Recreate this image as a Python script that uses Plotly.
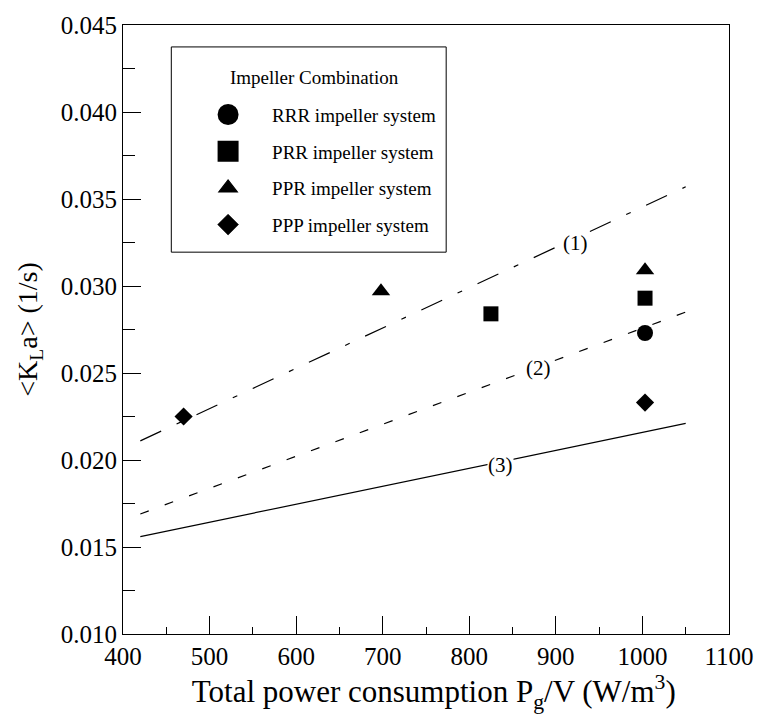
import plotly.graph_objects as go

# ---- data ----
rrr_x = [1003]
rrr_y = [0.0273]
prr_x = [825, 1003]
prr_y = [0.0284, 0.0293]
ppr_x = [698, 1003]
ppr_y = [0.0297, 0.0309]
ppp_x = [470, 1003]
ppp_y = [0.0225, 0.0233]

line_x = [420, 1050]
line1_y = [0.0211, 0.0357]
line2_y = [0.0169, 0.0285]
line3_y = [0.0156, 0.0221]

labels = ["(1)", "(2)", "(3)"]
label_x = [923, 880, 836]
label_y = [0.0325, 0.0253, 0.0197]

series_names = ["RRR impeller system", "PRR impeller system",
                "PPR impeller system", "PPP impeller system"]

FONT = "Liberation Serif"

fig = go.Figure()

specs = [
    (rrr_x, rrr_y, "circle", 16, 16, 5),
    (prr_x, prr_y, "square", 15, 16, 5),
    (ppr_x, ppr_y, "triangle-up", 16, 16, 1.2),
    (ppp_x, ppp_y, "diamond", 14, 16, 0.6),
]
for name, (xs, ys, sym, size, lsize, llw) in zip(series_names, specs):
    fig.add_trace(go.Scatter(
        x=xs, y=ys, mode="markers", name=name, showlegend=False,
        marker=dict(symbol=sym, size=size, color="black"),
    ))
    # legend-only entry
    fig.add_trace(go.Scatter(
        x=[None], y=[None], mode="markers", name=name, legendgroup=name,
        marker=dict(symbol=sym, size=lsize, color="black",
                    line=dict(color="black", width=llw)),
    ))

for ys, dash in [(line1_y, "23px,17px,5px,17px"), (line2_y, "9px,17px"), (line3_y, "solid")]:
    fig.add_trace(go.Scatter(
        x=line_x, y=ys, mode="lines", showlegend=False,
        line=dict(color="black", width=1.2, dash=dash),
    ))

for t, lx, ly in zip(labels, label_x, label_y):
    fig.add_annotation(x=lx, y=ly, text=t, showarrow=False,
                       font=dict(family=FONT, size=21, color="black"),
                       bgcolor="white", borderpad=0)

# legend box and title
fig.add_shape(type="rect", xref="paper", yref="paper",
              x0=0.0797, x1=0.5333, y0=0.627, y1=0.964,
              line=dict(color="black", width=1), fillcolor="rgba(0,0,0,0)")
fig.add_annotation(xref="paper", yref="paper", x=0.174, y=0.9137,
                   xanchor="left", yanchor="middle", showarrow=False,
                   text="Impeller Combination",
                   font=dict(family=FONT, size=19, color="black"))

fig.update_layout(
    width=766, height=716,
    margin=dict(l=123, r=28, t=20, b=82),
    plot_bgcolor="white", paper_bgcolor="white",
    font=dict(family=FONT, color="black"),
    showlegend=True,
    legend=dict(
        x=0.1008, y=0.884, xanchor="left", yanchor="top",
        bgcolor="rgba(0,0,0,0)", borderwidth=0,
        font=dict(family=FONT, size=19, color="black"),
        tracegroupgap=9,
        itemwidth=78,
    ),
    xaxis=dict(
        range=[400, 1100], dtick=100, tick0=400,
        showline=True, linecolor="black", linewidth=1, mirror=True,
        ticks="inside", ticklen=18, tickcolor="black",
        minor=dict(dtick=50, ticks="inside", ticklen=7, tickcolor="black"),
        showgrid=False, zeroline=False,
        tickfont=dict(family=FONT, size=25, color="black"),
        title=dict(text="&nbsp;&nbsp;Total power consumption P<sub>g</sub>/V (W/m<sup>3</sup>)",
                   font=dict(family=FONT, size=31, color="black"), standoff=3),
    ),
    yaxis=dict(
        range=[0.010, 0.045], dtick=0.005, tick0=0.010, tickformat=".3f",
        showline=True, linecolor="black", linewidth=1, mirror=True,
        ticks="inside", ticklen=18, tickcolor="black",
        minor=dict(dtick=0.0025, ticks="inside", ticklen=12, tickcolor="black"),
        showgrid=False, zeroline=False,
        tickfont=dict(family=FONT, size=25, color="black"),
        title=dict(text="&lt;K<sub>L</sub>a&gt; (1/s)",
                   font=dict(family=FONT, size=28, color="black"), standoff=14),
    ),
)

fig.write_html("out.html")
